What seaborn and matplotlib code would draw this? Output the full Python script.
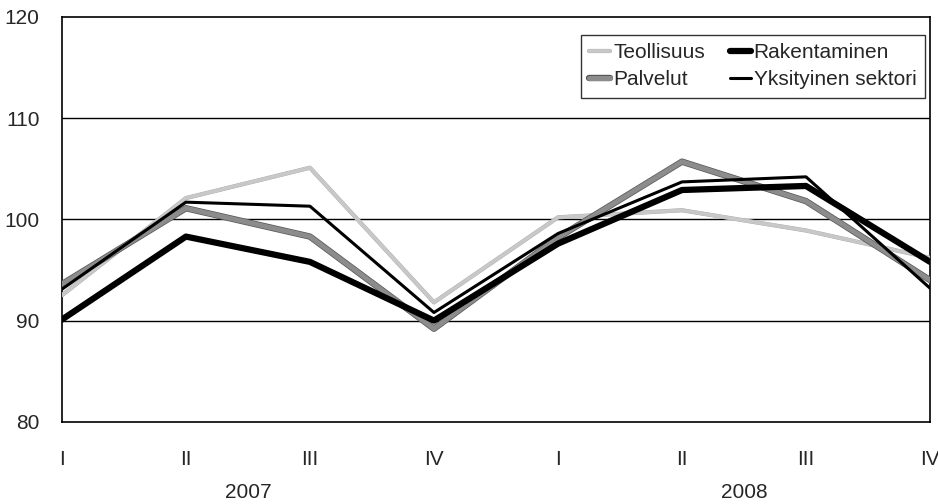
import matplotlib
matplotlib.use("Agg")
import matplotlib.pyplot as plt
import matplotlib.patheffects as pe
import seaborn as sns
import pandas as pd

quarters = ["I", "II", "III", "IV", "I", "II", "III", "IV"]
years = ["2007", "2008"]
teollisuus = [92.5, 102.1, 105.1, 91.8, 100.2, 100.9, 98.9, 96.2]
rakentaminen = [90.1, 98.3, 95.8, 90.0, 97.6, 102.9, 103.3, 95.8]
palvelut = [93.6, 101.1, 98.3, 89.2, 98.2, 105.7, 101.8, 94.0]
yksityinen = [93.1, 101.7, 101.3, 90.8, 98.6, 103.7, 104.2, 93.2]

sns.set_style("white")
plt.rcParams["font.family"] = ["Liberation Sans", "DejaVu Sans"]

fig = plt.figure(figsize=(9.38, 5.04), dpi=100)
ax = fig.add_axes([0.066, 0.163, 0.9255, 0.8035])

x = list(range(len(quarters)))
df = pd.DataFrame({"x": x, "Teollisuus": teollisuus, "Rakentaminen": rakentaminen,
                   "Palvelut": palvelut, "Yksityinen sektori": yksityinen})

for yv in [90, 100, 110]:
    ax.axhline(yv, color="black", lw=1.0, zorder=1)

styles = {
    "Teollisuus": dict(color="#c8c8c8", lw=2.6),
    "Palvelut": dict(color="#8c8c8c", lw=3.6),
    "Rakentaminen": dict(color="black", lw=4.5),
    "Yksityinen sektori": dict(color="black", lw=2.2),
}
order = ["Teollisuus", "Palvelut", "Yksityinen sektori", "Rakentaminen"]
for name in order:
    sns.lineplot(data=df, x="x", y=name, ax=ax, color=styles[name]["color"],
                 lw=styles[name]["lw"], label=name, zorder=3)
for line in ax.get_lines():
    if line.get_label() == "Palvelut":
        line.set_path_effects([pe.Stroke(linewidth=4.6, foreground="#555555"), pe.Normal()])
    if line.get_label() == "Teollisuus":
        line.set_path_effects([pe.Stroke(linewidth=3.0, foreground="#a8a8a8"), pe.Normal()])

handles_list, labels_list = ax.get_legend_handles_labels()
hmap = dict(zip(labels_list, handles_list))
leg_order = ["Teollisuus", "Palvelut", "Rakentaminen", "Yksityinen sektori"]
leg = ax.legend([hmap[n] for n in leg_order], leg_order, ncol=2, loc="upper right",
                bbox_to_anchor=(0.994, 0.956), borderaxespad=0, frameon=True,
                fancybox=False, edgecolor="black", fontsize=15, handlelength=1.0,
                handletextpad=0.15, columnspacing=1.2, borderpad=0.4, labelspacing=0.4)
leg.get_frame().set_linewidth(1.0)

ax.set_xlim(0, 7)
ax.set_ylim(80, 120)
ax.set_yticks([80, 90, 100, 110, 120])
ax.set_xticks(x)
ax.set_xticklabels(quarters)
ax.set_xlabel("")
ax.set_ylabel("")
ax.tick_params(axis="x", direction="out", length=12, width=1, color="black",
               labelsize=15, pad=8)
ax.tick_params(axis="y", length=0, labelsize=15, pad=16)
for s in ax.spines.values():
    s.set_color("black")
    s.set_linewidth(1.2)

ax.text(1.5, -0.175, years[0], transform=ax.get_xaxis_transform(), ha="center",
        va="center", fontsize=15)
ax.text(5.5, -0.175, years[1], transform=ax.get_xaxis_transform(), ha="center",
        va="center", fontsize=15)

fig.savefig("out.png", dpi=100)
